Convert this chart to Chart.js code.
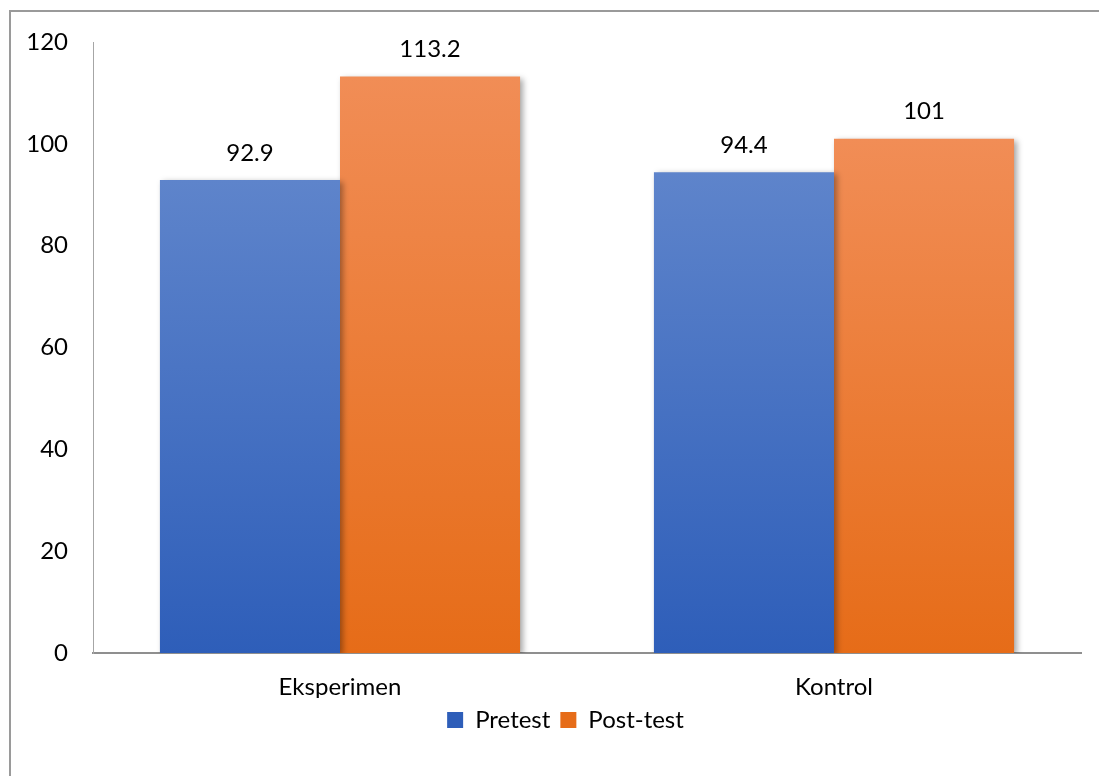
<!DOCTYPE html>
<html>
<head>
<meta charset="utf-8">
<script src="https://cdn.jsdelivr.net/npm/chart.js@4.4.0/dist/chart.umd.min.js"></script>
<style>
    body { margin: 0; background: #fff; }
    #wrap { position: relative; width: 1099px; height: 776px; overflow: hidden; }
    #frame { position: absolute; left: 9px; top: 10px; width: 1200px; height: 900px;
             border-left: 2px solid #9a9a9a; border-top: 2px solid #9a9a9a; }
    canvas { position: absolute; left: 0; top: 0; }
</style>
</head>
<body>
<div id="wrap">
    <div id="frame"></div>
    <canvas id="barChart" width="1099" height="776"></canvas>
</div>
<script>
const categories = ["Eksperimen", "Kontrol"];
const pretest = [92.9, 94.4];
const posttest = [113.2, 101];
const seriesNames = ["Pretest", "Post-test"];

// warna atas / bawah gradien
const blueTop = "#5E84CB", blueBottom = "#2E5EB9";
const orangeTop = "#F18D56", orangeBottom = "#E66C18";

function barGradient(top, bottom) {
    return function (context) {
        const chart = context.chart;
        const y = chart.scales.y;
        if (!chart.chartArea || !y || context.raw === undefined) return bottom;
        const yTop = y.getPixelForValue(context.raw);
        const yBase = y.getPixelForValue(0);
        if (!isFinite(yTop) || !isFinite(yBase)) return bottom;
        const g = chart.ctx.createLinearGradient(0, yTop, 0, yBase);
        g.addColorStop(0, top);
        g.addColorStop(1, bottom);
        return g;
    };
}

const barShadow = {
    id: 'barShadow',
    beforeDatasetsDraw(chart) {
        const ctx = chart.ctx;
        ctx.save();
        ctx.shadowColor = 'rgba(0,0,0,0.35)';
        ctx.shadowBlur = 6;
        ctx.shadowOffsetX = 3;
        ctx.shadowOffsetY = 2;
    },
    afterDatasetsDraw(chart) {
        chart.ctx.restore();
    }
};

// geser legenda sedikit ke kanan, seperti di gambar asli
const legendShift = {
    id: 'legendShift',
    afterLayout(chart) {
        chart.legend.left += 25;
        chart.legend.right += 25;
    }
};

const valueLabels = {
    id: 'valueLabels',
    afterDatasetsDraw(chart) {
        const ctx = chart.ctx;
        ctx.save();
        ctx.font = '24px Lato';
        ctx.fillStyle = '#000';
        ctx.textAlign = 'center';
        ctx.textBaseline = 'middle';
        chart.data.datasets.forEach(function (ds, i) {
            chart.getDatasetMeta(i).data.forEach(function (bar, j) {
                ctx.fillText(String(ds.data[j]), bar.x, bar.y - 27);
            });
        });
        ctx.restore();
    }
};

let barChart = document.getElementById('barChart');

new Chart(barChart, {
    type: 'bar',
    data: {
        labels: categories,
        datasets: [
            {
                label: seriesNames[0],
                data: pretest,
                backgroundColor: barGradient(blueTop, blueBottom),
                borderWidth: 0
            },
            {
                label: seriesNames[1],
                data: posttest,
                backgroundColor: barGradient(orangeTop, orangeBottom),
                borderWidth: 0
            }
        ]
    },
    options: {
        responsive: false,
        animation: false,
        events: [],
        layout: {
            padding: { left: 0, right: 18, top: 42, bottom: 34 }
        },
        datasets: {
            bar: { barPercentage: 1.0, categoryPercentage: 0.729 }
        },
        scales: {
            x: {
                grid: { display: false, drawTicks: false },
                border: { display: true, color: '#8f8f8f', width: 2 },
                ticks: { color: '#000', font: { family: 'Lato', size: 24 }, padding: 20 },
                afterFit: function (scale) { scale.height = 45; }
            },
            y: {
                min: 0,
                max: 120,
                grid: { display: false, drawTicks: false },
                border: { display: true, color: '#a6a6a6', width: 1 },
                ticks: { stepSize: 20, color: '#000', font: { family: 'Lato', size: 24 }, padding: 25 },
                afterFit: function (scale) { scale.width = 93; }
            }
        },
        plugins: {
            legend: {
                position: 'bottom',
                labels: {
                    color: '#000',
                    font: { family: 'Lato', size: 24 },
                    boxWidth: 16,
                    boxHeight: 16,
                    padding: 10
                }
            },
            tooltip: { enabled: false }
        }
    },
    plugins: [barShadow, valueLabels, legendShift]
});
</script>
</body>
</html>
